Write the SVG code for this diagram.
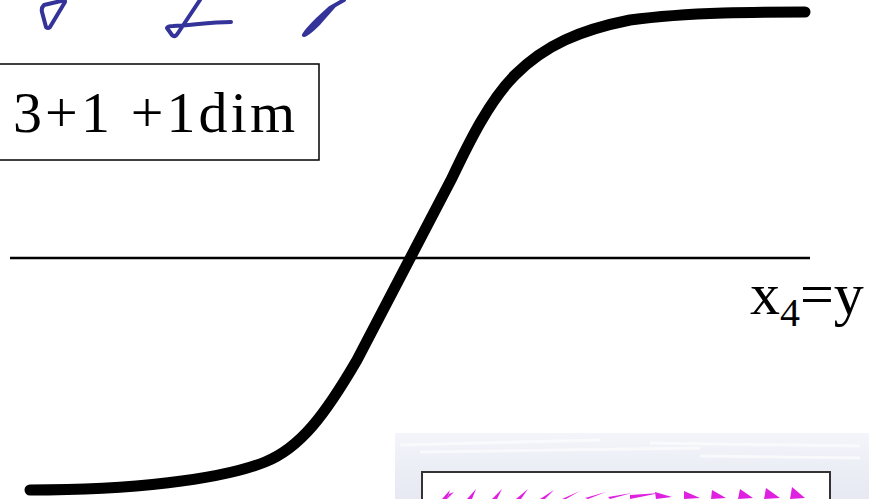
<svg xmlns="http://www.w3.org/2000/svg" width="869" height="499" viewBox="0 0 869 499">
<defs>
<style>
.hand{fill:none;stroke:#333399;stroke-width:4;stroke-linecap:round;stroke-linejoin:round}
.serif{font-family:"Liberation Serif","Times New Roman",serif;fill:#000}
.arr{fill:#e020e0}
</style>
<linearGradient id="bg" x1="0" y1="0" x2="0" y2="1">
<stop offset="0" stop-color="#f4f5fa"/>
<stop offset="0.5" stop-color="#eceef6"/>
<stop offset="1" stop-color="#e6e9f2"/>
</linearGradient>
</defs>
<rect width="869" height="499" fill="#fff"/>
<g id="handwriting">
<path class="hand" d="M65,0 L44,5 Q41,8 42,12 L46,27 Q48,29 50,27 L65,2"/>
<path class="hand" d="M200,0 L178,33 Q175,38 172,35 L167,28 Q168,26 173,26 C192,25 212,22 231,22"/>
<path class="hand" d="M344,0 L330,8 L318,19 Q306,31 304,35 Q308,34 319,23 L334,6"/>
</g>
<g id="axis">
<line x1="10" y1="258" x2="810" y2="258" stroke="#000" stroke-width="2.5"/>
</g>
<g id="curve">
<path d="M30,490 C130,490 220,480 265,462 C300,448 325,415 357,360 L452,178 C470,140 490,100 515,75 C545,45 580,30 630,20 C690,12 760,12 805,12" fill="none" stroke="#000" stroke-width="11" stroke-linecap="round" stroke-linejoin="round"/>
</g>
<g id="label-box">
<rect x="-2" y="64" width="321" height="96" fill="#fff" stroke="#000" stroke-width="1.5"/>
<text class="serif" x="13" y="132" font-size="58" textLength="282" lengthAdjust="spacing">3+1 +1dim</text>
</g>
<g id="label-axis">
<text class="serif" x="750" y="314" font-size="60">x<tspan font-size="40" dy="12">4</tspan><tspan dy="-12">=y</tspan></text>
</g>
<g id="inset">
<rect x="395" y="433" width="474" height="66" fill="url(#bg)"/>
<path d="M400,445 L600,440 M420,452 L700,448 M650,443 L860,446 M700,456 L860,458" stroke="#fff" stroke-width="3" opacity="0.6"/>
<rect x="422" y="472" width="408" height="40" fill="#fff" stroke="#333" stroke-width="2"/>
<g class="arr">
<path d="M442,499 L450,490 L447,499 Z M454,492 L449,494 L447,499Z"/>
<path d="M467,499 L476,489 L472,499 Z"/>
<path d="M492,499 L502,489 L497,499 Z"/>
<path d="M516,499 L528,489 L521,499 Z"/>
<path d="M540,499 L554,490 L545,499 Z"/>
<path d="M562,499 L580,491 L566,499 Z"/>
<path d="M585,498 L606,492 L588,499 Z"/>
<path d="M608,497 L632,493 L610,499 Z"/>
<path d="M630,495 L660,493 L630,499 Z"/>
<path d="M655,492 L672,497 L656,499 Z"/>
<path d="M684,491 L700,498 L684,499 Z"/>
<path d="M712,490 L726,498 L711,499 Z"/>
<path d="M740,489 L753,498 L738,499 Z"/>
<path d="M766,488 L780,498 L764,499 Z"/>
<path d="M792,487 L805,498 L790,499 Z"/>
</g>
</g>
</svg>
